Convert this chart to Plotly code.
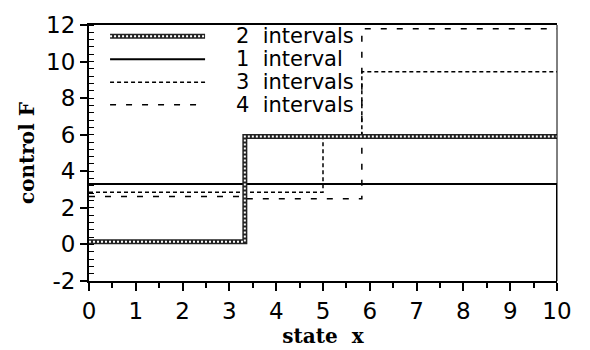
import plotly.graph_objects as go

# Piecewise-constant control F(x) for different numbers of intervals
x_two = [0, 3.33, 3.33, 10]
f_two = [0.15, 0.15, 5.9, 5.9]

x_one = [0, 10, 10]
f_one = [3.3, 3.3, -2]

x_three = [0, 5.0, 5.0, 5.83, 5.83, 10]
f_three = [2.85, 2.85, 5.9, 5.9, 9.45, 9.45]

x_four = [0, 3.33, 3.33, 5.83, 5.83, 10]
f_four = [2.62, 2.62, 2.5, 2.5, 11.8, 11.8]

series_names = ["2  intervals", "1  interval", "3  intervals", "4  intervals"]
x_ticks = list(range(0, 11))
y_ticks = list(range(-2, 13, 2))

SANS = "DejaVu Sans, Verdana, sans-serif"
TICK_FONT = dict(family=SANS, size=23, color="black")
TITLE_FONT = dict(family="DejaVu Serif, Times New Roman, serif", size=20, color="black")

styles = {
    "2  intervals": dict(color="#222", width=5, dash="solid"),
    "1  interval": dict(color="black", width=2, dash="solid"),
    "3  intervals": dict(color="black", width=1.5, dash="4px,3px"),
    "4  intervals": dict(color="black", width=1.5, dash="6px,10px"),
}

fig = go.Figure()

data = {
    "2  intervals": (x_two, f_two),
    "1  interval": (x_one, f_one),
    "3  intervals": (x_three, f_three),
    "4  intervals": (x_four, f_four),
}

for name in ["1  interval", "3  intervals", "4  intervals", "2  intervals"]:
    xs, ys = data[name]
    fig.add_trace(go.Scatter(x=xs, y=ys, mode="lines", name=name,
                             line=styles[name], showlegend=False))

# beaded look of the thick two-interval line
fig.add_trace(go.Scatter(x=x_two, y=f_two, mode="lines", showlegend=False,
                         line=dict(color="white", width=2, dash="2px,2px")))

# hand-drawn legend block in the upper left corner
row_y = [0.956, 0.866, 0.776, 0.688]
for name, yy in zip(series_names, row_y):
    st = styles[name]
    fig.add_shape(type="line", xref="paper", yref="paper",
                  x0=0.045, x1=0.248, y0=yy, y1=yy,
                  line=dict(color=st["color"], width=st["width"], dash=st["dash"]))
    if name == "2  intervals":
        fig.add_shape(type="line", xref="paper", yref="paper",
                      x0=0.045, x1=0.248, y0=yy, y1=yy,
                      line=dict(color="white", width=2, dash="2px,2px"))
    fig.add_annotation(x=0.31, y=yy, xref="paper", yref="paper", text=name,
                       showarrow=False, xanchor="left", yanchor="middle",
                       font=dict(family=SANS, size=21, color="black"))

# thin right-hand frame edge
fig.add_shape(type="line", xref="paper", yref="paper", x0=1, x1=1, y0=0, y1=1,
              line=dict(color="black", width=1))

fig.update_xaxes(
    range=[0, 10], tickvals=x_ticks, ticktext=[str(v) for v in x_ticks],
    showgrid=False, zeroline=False, showline=True, linecolor="black", linewidth=2,
    mirror=True, ticks="outside", ticklen=8, tickwidth=1.5, tickcolor="black",
    minor=dict(dtick=0.5, ticks="outside", ticklen=5, tickwidth=1.5, tickcolor="black"),
    tickfont=TICK_FONT,
    title=dict(text="<b>state  x</b>", font=TITLE_FONT, standoff=0),
)
fig.update_yaxes(
    range=[-2, 12], tickvals=y_ticks, ticktext=[str(v) for v in y_ticks],
    showgrid=False, zeroline=False, showline=True, linecolor="black", linewidth=2,
    ticks="outside", ticklen=7, tickwidth=1.5, tickcolor="black",
    minor=dict(dtick=0.4, ticks="inside", ticklen=5, tickwidth=1.2, tickcolor="black"),
    tickfont=TICK_FONT,
    title=dict(text="<b>control F</b>", font=TITLE_FONT, standoff=6),
)

fig.update_layout(
    width=590, height=350,
    margin=dict(l=89, r=33, t=18, b=65),
    plot_bgcolor="white", paper_bgcolor="white",
    showlegend=False,
)

fig.write_html("out.html")
